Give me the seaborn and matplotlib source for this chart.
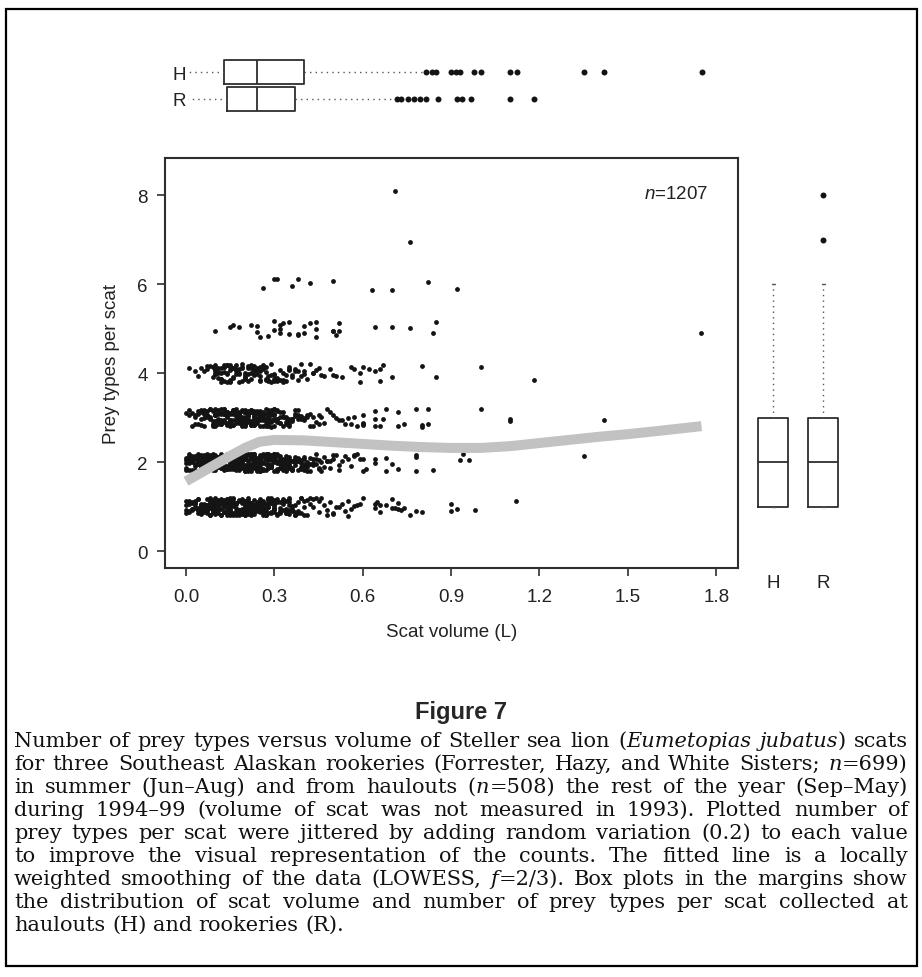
import numpy as np
import pandas as pd
import seaborn as sns
import matplotlib.pyplot as plt
from matplotlib.patches import Rectangle

W, H = 922, 978

# volume grid (L) used for the dense part of each prey-count band
VOLUME_BINS = [0.00, 0.01, 0.02, 0.03, 0.04, 0.05, 0.06, 0.07, 0.08, 0.09,
               0.10, 0.11, 0.12, 0.13, 0.14, 0.15, 0.16, 0.17, 0.18, 0.19,
               0.20, 0.21, 0.22, 0.23, 0.24, 0.25, 0.26, 0.27, 0.28, 0.29,
               0.30, 0.31, 0.32, 0.33, 0.34, 0.35, 0.36, 0.37, 0.38, 0.39,
               0.40, 0.41, 0.42, 0.43, 0.44, 0.45, 0.46, 0.47, 0.48, 0.49]

# number of scats per volume bin, one list per prey-type count
PREY1_COUNTS = [4, 5, 5, 6, 6, 8, 7, 8, 8, 7,
                10, 8, 7, 8, 8, 10, 8, 7, 8, 7,
                10, 8, 8, 7, 7, 10, 7, 7, 7, 6,
                9, 5, 5, 5, 4, 6, 4, 4, 3, 3,
                3, 2, 2, 2, 1, 2, 1, 1, 2, 1]
PREY2_COUNTS = [5, 6, 6, 7, 7, 10, 9, 9, 10, 9,
                13, 10, 10, 10, 10, 13, 10, 10, 10, 10,
                13, 10, 10, 10, 9, 12, 9, 9, 9, 8,
                11, 8, 7, 7, 7, 7, 5, 5, 5, 4,
                5, 4, 3, 3, 3, 3, 2, 2, 2, 2]
PREY3_COUNTS = [1, 2, 2, 3, 3, 4, 4, 5, 5, 5,
                9, 7, 7, 7, 8, 9, 8, 8, 8, 8,
                10, 8, 8, 8, 7, 10, 7, 7, 7, 7,
                7, 5, 4, 4, 4, 5, 3, 3, 3, 3,
                3, 2, 2, 2, 1, 2, 1, 1, 1, 1]
PREY4_COUNTS = [0, 1, 0, 1, 1, 1, 1, 2, 1, 2,
                6, 4, 5, 5, 5, 6, 4, 4, 4, 4,
                5, 4, 4, 4, 3, 5, 3, 4, 3, 3,
                4, 3, 2, 3, 2, 3, 2, 2, 2, 2,
                2, 1, 1, 2, 1, 1, 1, 1, 0, 1]

# larger scats, read one by one
PREY1_SPARSE = [0.50, 0.50, 0.51, 0.52, 0.53, 0.54, 0.55, 0.55, 0.56, 0.57, 0.58,
                0.59, 0.60, 0.64, 0.64, 0.65, 0.66, 0.66, 0.68, 0.70, 0.70, 0.71,
                0.72, 0.72, 0.73, 0.74, 0.76, 0.78, 0.80, 0.90, 0.90, 0.92, 0.98, 1.12]
PREY2_SPARSE = [0.50, 0.50, 0.51, 0.52, 0.52, 0.53, 0.54, 0.55, 0.56, 0.57, 0.57,
                0.58, 0.59, 0.60, 0.60, 0.61, 0.64, 0.64, 0.68, 0.68, 0.70, 0.72,
                0.78, 0.78, 0.78, 0.84, 0.93, 0.94, 0.96, 1.35]
PREY3_SPARSE = [0.50, 0.51, 0.52, 0.53, 0.54, 0.55, 0.56, 0.57, 0.58,
                0.60, 0.60, 0.60, 0.60, 0.64, 0.64, 0.64, 0.66, 0.67, 0.68, 0.72,
                0.72, 0.74, 0.78, 0.80, 0.80, 0.82, 0.82, 1.00, 1.10, 1.10, 1.42]
PREY4_SPARSE = [0.50, 0.51, 0.53, 0.56, 0.57, 0.59, 0.59, 0.60, 0.62, 0.64,
                0.66, 0.66, 0.67, 0.70, 0.80, 0.85, 1.00, 1.18]
PREY5_VOLUMES = [0.10, 0.15, 0.16, 0.18, 0.22, 0.24, 0.25, 0.24, 0.28, 0.30, 0.30,
                 0.32, 0.32, 0.32, 0.33, 0.35, 0.35, 0.38, 0.38, 0.40, 0.40, 0.42,
                 0.44, 0.44, 0.44, 0.50, 0.50, 0.52, 0.52, 0.51, 0.64, 0.70, 0.76,
                 0.84, 0.85, 1.75]
PREY6_VOLUMES = [0.26, 0.30, 0.31, 0.36, 0.38, 0.42, 0.50, 0.63, 0.70, 0.82, 0.92]
PREY7_VOLUMES = [0.76]
PREY8_VOLUMES = [0.71]

# LOWESS curve
LOWESS_X = [0.00, 0.05, 0.10, 0.15, 0.20, 0.25, 0.30, 0.40, 0.50, 0.60, 0.70,
            0.80, 0.90, 1.00, 1.10, 1.20, 1.30, 1.40, 1.50, 1.60, 1.75]
LOWESS_Y = [1.57, 1.76, 1.95, 2.14, 2.32, 2.46, 2.50, 2.49, 2.45, 2.41, 2.37,
            2.34, 2.32, 2.32, 2.36, 2.43, 2.50, 2.57, 2.63, 2.70, 2.81]

# marginal box plots: haulouts (H) and rookeries (R)
GROUPS = ["H", "R"]
VOL_Q1 = [0.13, 0.14]
VOL_MED = [0.24, 0.24]
VOL_Q3 = [0.40, 0.37]
VOL_WHISLO = [0.008, 0.008]
VOL_WHISHI = [0.80, 0.71]
VOL_FLIERS_H = [0.815, 0.835, 0.85, 0.90, 0.915, 0.93, 0.977, 1.0, 1.10, 1.125, 1.352, 1.42, 1.752]
VOL_FLIERS_R = [0.717, 0.73, 0.755, 0.775, 0.795, 0.815, 0.854, 0.919, 0.938, 0.968, 1.10, 1.183]

PREY_Q1 = [1, 1]
PREY_MED = [2, 2]
PREY_Q3 = [3, 3]
PREY_WHISLO = [1, 1]
PREY_WHISHI = [6, 6]
PREY_FLIERS_H = []
PREY_FLIERS_R = [7, 8]

X_TICKS = [0.0, 0.3, 0.6, 0.9, 1.2, 1.5, 1.8]
X_TICK_LABELS = ["0.0", "0.3", "0.6", "0.9", "1.2", "1.5", "1.8"]
Y_TICKS = [0, 2, 4, 6, 8]

CAPTION_TITLE = "Figure 7"
CAPTION_LINES = [
    "Number of prey types versus volume of Steller sea lion (_Eumetopias_ _jubatus_) scats",
    "for three Southeast Alaskan rookeries (Forrester, Hazy, and White Sisters; _n_=699)",
    "in summer (Jun–Aug) and from haulouts (_n_=508) the rest of the year (Sep–May)",
    "during 1994–99 (volume of scat was not measured in 1993). Plotted number of",
    "prey types per scat were jittered by adding random variation (0.2) to each value",
    "to improve the visual representation of the counts. The fitted line is a locally",
    "weighted smoothing of the data (LOWESS, _f_=2/3). Box plots in the margins show",
    "the distribution of scat volume and number of prey types per scat collected at",
    "haulouts (H) and rookeries (R).",
]

INK = "#141414"
EDGE = "#2e2e2e"


def px_rect(left, top, right, bottom):
    return [left / W, 1 - bottom / H, (right - left) / W, (bottom - top) / H]


def build_points():
    rows = []
    dense = [(1, PREY1_COUNTS, PREY1_SPARSE), (2, PREY2_COUNTS, PREY2_SPARSE),
             (3, PREY3_COUNTS, PREY3_SPARSE), (4, PREY4_COUNTS, PREY4_SPARSE)]
    for level, counts, sparse in dense:
        vols = list(np.repeat(VOLUME_BINS, counts)) + sparse
        rows += [(v, level) for v in vols]
    for level, vols in [(5, PREY5_VOLUMES), (6, PREY6_VOLUMES),
                        (7, PREY7_VOLUMES), (8, PREY8_VOLUMES)]:
        rows += [(v, level) for v in vols]
    return pd.DataFrame(rows, columns=["volume", "prey_types"])


def box_stats(q1, med, q3, lo, hi, fliers):
    return [dict(q1=q1[i], med=med[i], q3=q3[i], whislo=lo[i], whishi=hi[i],
                 fliers=fliers[i], label=GROUPS[i]) for i in range(len(GROUPS))]


def box_style():
    return dict(
        boxprops=dict(color=EDGE, linewidth=1.3),
        medianprops=dict(color=EDGE, linewidth=1.3),
        whiskerprops=dict(color="#555555", linewidth=1.0, linestyle=(0, (1, 3))),
        capprops=dict(color="#555555", linewidth=1.0),
        flierprops=dict(marker="o", markerfacecolor=INK, markeredgecolor="none",
                        markersize=4.3),
    )


def draw_caption(fig):
    renderer = fig.canvas.get_renderer()
    left, right = 14, 908
    fig.text(461 / W, 1 - 712 / H, CAPTION_TITLE, ha="center", va="center",
             fontsize=17, fontweight="bold",
             family=["Liberation Sans Narrow", "Liberation Sans", "DejaVu Sans"])
    serif = dict(family=["DejaVu Serif"], color="#111111")

    def width(s, size, italic=False):
        t = fig.text(0, 0, s, fontsize=size, style="italic" if italic else "normal", **serif)
        w = t.get_window_extent(renderer).width
        t.remove()
        return w

    # fit font size so the fullest line sets with ordinary spaces
    base = 10
    natural = max(width(line.replace("_", ""), base) for line in CAPTION_LINES)
    size = base * (right - left) / natural * 0.985

    space = width("a a", size) - width("aa", size)
    for i, line in enumerate(CAPTION_LINES):
        y = 1 - (747 + 23 * i) / H
        words = []
        for word in line.split(" "):
            segs = []
            for k, part in enumerate(word.split("_")):
                if part == "":
                    continue
                t = fig.text(0, y, part, fontsize=size, va="baseline",
                             style="italic" if k % 2 else "normal", **serif)
                segs.append((t, t.get_window_extent(renderer).width))
            words.append(segs)
        total = sum(w for segs in words for _, w in segs)
        if i < len(CAPTION_LINES) - 1:
            gap = (right - left - total) / (len(words) - 1)
        else:
            gap = space
        x = left
        for segs in words:
            for t, w in segs:
                t.set_x(x / W)
                x += w
            x += gap


def main():
    sns.set_theme(style="ticks")
    plt.rcParams["font.family"] = ["Liberation Sans", "DejaVu Sans"]
    plt.rcParams["mathtext.fontset"] = "custom"
    plt.rcParams["mathtext.rm"] = "Liberation Sans"
    plt.rcParams["mathtext.it"] = "Liberation Sans:italic"

    df = build_points()
    fig = plt.figure(figsize=(W / 100, H / 100), dpi=100)
    fig.patch.set_facecolor("white")

    ax = fig.add_axes(px_rect(165, 159, 738, 569))
    sns.regplot(data=df, x="volume", y="prey_types", fit_reg=False, y_jitter=0.2,
                color=INK, ax=ax, scatter_kws=dict(s=12, linewidths=0, alpha=1))
    sns.lineplot(x=LOWESS_X, y=LOWESS_Y, color="#c2c2c2", linewidth=7.2, ax=ax,
                 solid_capstyle="butt", solid_joinstyle="round", zorder=5)
    ax.set_xlim(-0.0713, 1.874)
    ax.set_ylim(-0.38, 8.84)
    ax.set_xticks(X_TICKS)
    ax.set_xticklabels(X_TICK_LABELS)
    ax.set_yticks(Y_TICKS)
    ax.tick_params(axis="both", labelsize=13.5, length=5.5, width=1.2,
                   color=EDGE, labelcolor="#222222", direction="out")
    ax.tick_params(axis="x", pad=9)
    ax.tick_params(axis="y", pad=7)
    for s in ax.spines.values():
        s.set_visible(True)
        s.set_color(EDGE)
        s.set_linewidth(1.5)
    ax.set_xlabel("Scat volume (L)", fontsize=13.5, labelpad=13, color="#222222")
    ax.set_ylabel("Prey types per scat", fontsize=13.5, labelpad=12, color="#222222")
    ax.text(1.773, 8.04, "$n$=1207", ha="right", va="center", fontsize=13.5,
            color="#222222")

    # top margin: scat volume by site type
    ax_top = fig.add_axes(px_rect(165, 46, 738, 127))
    ax_top.bxp(box_stats(VOL_Q1, VOL_MED, VOL_Q3, VOL_WHISLO, VOL_WHISHI,
                         [VOL_FLIERS_H, VOL_FLIERS_R]),
               positions=[2, 1], widths=0.9, orientation="horizontal",
               capwidths=0.0, **box_style())
    ax_top.set_xlim(ax.get_xlim())
    ax_top.set_ylim(0.0, 3.0)
    ax_top.set_xticks([])
    ax_top.set_yticks([2, 1])
    ax_top.set_yticklabels(GROUPS)
    ax_top.tick_params(axis="y", length=0, pad=-15, labelsize=13.5, labelcolor="#222222")
    for lab in ax_top.get_yticklabels():
        lab.set_horizontalalignment("right")
    for s in ax_top.spines.values():
        s.set_visible(False)
    ax_top.patch.set_alpha(0)

    # right margin: prey types by site type
    ax_side = fig.add_axes(px_rect(748, 159, 848, 569))
    ax_side.bxp(box_stats(PREY_Q1, PREY_MED, PREY_Q3, PREY_WHISLO, PREY_WHISHI,
                          [PREY_FLIERS_H, PREY_FLIERS_R]),
                positions=[1, 2], widths=0.6, orientation="vertical",
                capwidths=0.06, **box_style())
    ax_side.set_ylim(ax.get_ylim())
    ax_side.set_xlim(0.5, 2.5)
    ax_side.set_yticks([])
    ax_side.set_xticks([1, 2])
    ax_side.set_xticklabels(GROUPS)
    ax_side.tick_params(axis="x", length=0, pad=4, labelsize=13.5, labelcolor="#222222")
    for s in ax_side.spines.values():
        s.set_visible(False)
    ax_side.patch.set_alpha(0)

    fig.add_artist(Rectangle((6 / W, 1 - 967 / H), (917 - 6) / W, (967 - 10) / H,
                             transform=fig.transFigure, fill=False,
                             edgecolor="black", linewidth=1.6))
    draw_caption(fig)
    fig.savefig("out.png", dpi=100)
    plt.close(fig)


if __name__ == "__main__":
    main()
